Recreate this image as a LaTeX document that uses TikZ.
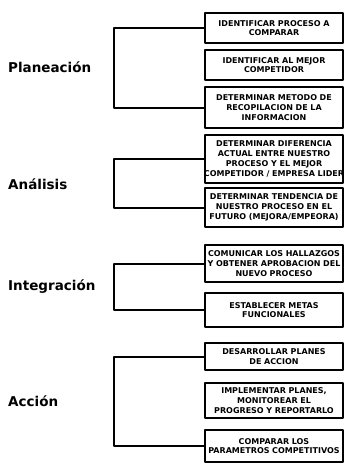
\documentclass[tikz,border=0pt]{standalone}
\usepackage{fontspec}
\setmainfont{DejaVu Sans}
\begin{document}
\begin{tikzpicture}[x=1pt,y=-1pt,line join=round,line cap=round,
		tarea/.style={draw,line width=1.6pt,minimum width=138pt,text width=134pt,inner sep=1pt,
			align=center,font=\bfseries\fontsize{8}{9.8}\selectfont},
		fase/.style={anchor=west,font=\bfseries\fontsize{13.5}{16}\selectfont,inner sep=0pt},
		llave/.style={line width=2pt}]
	\useasboundingbox (0,0) rectangle (348,466);
	% cajas de tareas: nombre/centro y/alto/texto
	\foreach \n/\y/\h/\t in {b1/28/30/{IDENTIFICAR PROCESO A\\COMPARAR},
			b2/65/30/{IDENTIFICAR AL MEJOR\\COMPETIDOR},
			b3/107.5/41/{DETERMINAR METODO DE\\RECOPILACION DE LA\\INFORMACION},
			b4/159/48/{DETERMINAR DIFERENCIA\\ACTUAL ENTRE NUESTRO\\PROCESO Y EL MEJOR\\\makebox[0pt]{COMPETIDOR / EMPRESA LIDER}},
			b5/207.5/39/{\makebox[0pt]{DETERMINAR TENDENCIA DE}\\NUESTRO PROCESO EN EL\\\makebox[0pt]{FUTURO (MEJORA/EMPEORA)}},
			b6/263.5/37/{\makebox[0pt]{COMUNICAR LOS HALLAZGOS}\\\makebox[0pt]{Y OBTENER APROBACION DEL}\\NUEVO PROCESO},
			b7/310/34/{ESTABLECER METAS\\FUNCIONALES},
			b8/356.5/27/{DESARROLLAR PLANES\\DE ACCION},
			b9/400.5/35/{IMPLEMENTAR PLANES,\\MONITOREAR EL\\PROGRESO Y REPORTARLO},
			b10/446/32/{COMPARAR LOS\\\makebox[0pt]{PARAMETROS COMPETITIVOS}}}{
		\node[tarea,minimum height=\h pt] (\n) at (274,\y) {\t};
	}
	% fases
	\node[fase] (p1) at (8,67) {Planeación};
	\node[fase] (p2) at (8,184) {Análisis};
	\node[fase] (p3) at (8,287) {Integración};
	\node[fase] (p4) at (8,401) {Acción};
	% llaves
	\draw[llave] (b1.west)--++(-90,0)|-(b3.west);
	\draw[llave] (b4.west)--++(-90,0)|-(b5.west);
	\draw[llave] (b6.west)--++(-90,0)|-(b7.west);
	\draw[llave] (b8.west)--++(-90,0)|-(b10.west);
\end{tikzpicture}
\end{document}
